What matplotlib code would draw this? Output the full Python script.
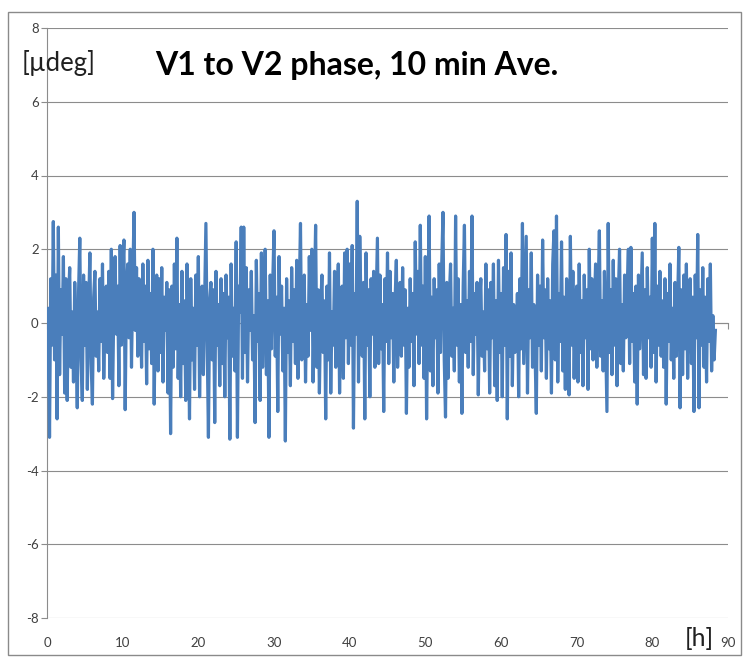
import numpy as np
import matplotlib
matplotlib.use("Agg")
import matplotlib.pyplot as plt
from matplotlib.patches import Rectangle

plt.rcParams['font.family'] = ['Lato', 'DejaVu Sans']
plt.rcParams['axes.unicode_minus'] = False

# 10 min averages, one row per hour (6 values per hour)
phase_rows = [
    [-1.5, 0.4, -3.1, 1.2, -0.6, 2.75],
    [-1.0, 1.3, -2.6, 2.6, -1.4, 0.9],
    [-0.3, 1.8, -1.9, 1.2, -2.1, 0.6],
    [1.5, -1.2, 0.3, -1.6, 1.1, -0.4],
    [-2.3, 0.8, 2.3, -1.0, -2.1, 1.3],
    [-0.6, 1.1, -1.8, 0.4, 1.9, -1.1],
    [-2.2, 0.7, 1.4, -0.9, 0.3, -1.3],
    [1.2, -0.5, 1.6, -1.5, 0.2, 1.0],
    [-0.8, 1.4, -1.5, 2.0, -2.05, 0.5],
    [1.8, -0.3, 1.0, -1.7, 2.1, -0.6],
    [1.3, 2.25, -2.35, 0.9, 1.6, -0.4],
    [2.0, -1.2, 1.1, 3.0, -0.2, 1.5],
    [-0.9, 1.2, 0.4, -1.2, 1.6, -0.5],
    [1.0, -1.65, 1.7, -0.7, 0.8, -1.1],
    [2.0, -2.2, 0.6, 1.3, -1.3, 1.2],
    [-0.8, 1.5, -1.6, 0.7, -0.2, 1.1],
    [-1.9, 0.9, -3.0, 1.0, -1.2, 1.6],
    [-0.7, 2.3, -1.5, 0.5, -2.0, 1.4],
    [-1.1, 0.6, -2.1, 1.6, -0.3, -2.6],
    [1.2, -1.0, 0.4, -1.8, 1.3, -0.6],
    [1.8, -2.0, 0.3, 1.0, -1.4, 0.7],
    [2.7, -0.5, -3.1, 0.6, 1.1, -1.0],
    [0.9, -2.7, 1.4, -0.6, 0.5, -1.7],
    [1.2, -1.1, 0.8, -2.0, 1.3, -0.4],
    [0.7, -3.15, 1.6, -0.9, 0.4, -1.3],
    [2.2, -3.1, 1.0, 0.3, 2.6, -1.5],
    [2.6, -0.8, 1.5, -1.6, 0.9, -0.2],
    [1.4, -1.0, 0.2, -2.7, 1.7, -0.5],
    [0.8, -2.1, 1.9, -1.2, 0.5, 2.0],
    [-1.4, 0.6, -3.1, 1.3, -0.7, 1.1],
    [2.5, -0.9, 0.7, -2.4, 1.8, -0.3],
    [1.0, -1.3, 0.4, -3.2, 1.2, -0.8],
    [0.6, -1.7, 1.5, -0.5, 0.9, -1.1],
    [1.7, -1.5, 0.8, 2.7, -1.0, 0.3],
    [1.3, -1.6, 0.5, -0.9, 1.8, -0.2],
    [2.0, -1.6, 0.7, 2.65, -1.2, 0.9],
    [-1.9, 0.4, 1.3, -0.8, 0.6, -2.6],
    [1.0, -1.0, 1.9, -1.9, 0.3, -0.6],
    [1.4, -1.2, 0.8, 1.6, -1.9, 0.5],
    [1.0, -1.5, 1.9, -0.4, 2.0, -1.1],
    [1.6, -0.6, 2.1, -2.85, 0.8, -0.3],
    [3.3, -1.6, 2.35, 0.4, -0.9, 1.1],
    [-2.6, 1.9, -0.6, 0.9, -2.0, 1.2],
    [-0.3, 1.4, -1.2, 0.6, 2.3, -1.1],
    [1.3, -0.7, 0.5, -2.4, 1.2, -0.5],
    [1.9, -1.1, 1.4, -0.4, 0.8, -1.6],
    [0.6, 1.7, -1.2, 0.3, 1.1, -0.9],
    [1.5, -0.6, 0.9, -2.45, 0.4, -1.2],
    [1.2, -0.5, 0.8, -1.7, 2.2, -0.3],
    [1.4, -1.1, 2.65, -0.6, 1.0, -1.5],
    [1.8, -2.6, 0.5, 2.9, -1.3, 0.7],
    [-1.7, 1.2, -0.4, 0.9, -1.9, 1.6],
    [-0.8, 1.6, 3.0, -1.0, -2.55, 1.1],
    [-1.5, 0.7, 1.6, -0.9, 0.4, -1.3],
    [2.9, -0.6, 1.2, -1.6, 0.5, -2.45],
    [1.0, 2.65, -0.8, 0.6, -1.2, 1.4],
    [-0.5, 2.9, -1.4, 0.8, -0.3, 1.1],
    [-1.95, 0.5, 1.2, -0.9, 0.3, -1.3],
    [1.6, -0.7, 0.9, -1.9, 1.1, -0.4],
    [1.6, -1.7, 0.6, -2.1, 1.7, -0.8],
    [0.8, -2.0, 1.5, -0.6, 2.4, -2.6],
    [1.4, -0.9, 1.9, -1.7, 0.5, -0.8],
    [-0.5, 0.8, -2.0, 1.2, -0.7, 2.7],
    [-1.1, 0.6, 2.35, -1.9, 0.9, -0.4],
    [1.9, -1.2, 0.5, -0.8, -2.45, 1.3],
    [-0.6, 1.0, -1.3, 2.25, -0.4, 0.9],
    [-1.5, 1.2, -0.7, 0.6, -1.9, 1.6],
    [2.5, -1.0, 2.9, -1.6, 0.8, -0.5],
    [2.2, -1.3, 0.7, -1.8, 1.2, -0.3],
    [-1.95, 2.35, -0.6, 1.4, -1.5, 0.5],
    [1.0, -1.6, 1.6, -0.8, 0.6, -1.7],
    [1.3, -0.4, 0.9, -1.8, 2.0, -0.7],
    [1.2, -1.0, 0.4, 1.6, -1.2, 0.8],
    [2.5, -0.9, 0.6, -1.3, 1.4, -0.5],
    [-2.4, 2.7, -0.8, 0.9, -1.4, 1.7],
    [-0.6, 1.2, -1.7, 0.7, 2.0, -1.1],
    [0.5, -1.3, 1.3, -0.4, 0.9, 2.0],
    [-1.1, 2.05, -0.5, 0.8, -1.6, 1.0],
    [-2.2, 1.3, -0.7, 0.6, 1.9, -1.4],
    [0.9, -1.5, 1.5, -0.4, 0.7, -1.2],
    [2.3, -0.8, 2.7, -1.6, 1.0, -0.6],
    [1.4, -0.9, 0.6, -1.2, 1.2, -2.2],
    [0.8, -0.5, 1.6, -1.0, 0.4, -1.5],
    [1.1, -0.9, 0.5, 2.05, -2.3, 0.9],
    [-1.4, 1.3, -0.7, 1.6, -1.5, 0.6],
    [1.2, -1.1, 0.7, -2.4, 1.3, -0.4],
    [2.4, -2.3, 0.9, -0.6, 1.5, -1.2],
    [0.7, -1.6, 1.2, -0.5, 1.6, -1.3],
    [0.2, -1.0, -0.2],
]
phase = np.concatenate([np.array(r) for r in phase_rows])
hours = np.arange(len(phase)) / 6.0

x_ticks = [0, 10, 20, 30, 40, 50, 60, 70, 80, 90]
y_ticks = [-8, -6, -4, -2, 0, 2, 4, 6, 8]

W, H = 744, 658
fig = plt.figure(figsize=(W / 100, H / 100), dpi=100)
ax = fig.add_axes([47 / W, 1 - 618 / H, 681 / W, 590 / H])

ax.plot(hours, phase, color='#4A7EBB', linewidth=2.3, zorder=3)

ax.set_xlim(0, 90)
ax.set_ylim(-8, 8)
ax.set_yticks(y_ticks)
ax.set_xticks(x_ticks)
ax.grid(axis='y', color='#8c8c8c', linewidth=0.8)
ax.set_axisbelow(True)

for s in ['top', 'right']:
    ax.spines[s].set_visible(False)
ax.spines['left'].set_color('#8c8c8c')
ax.spines['left'].set_linewidth(0.8)
ax.spines['bottom'].set_position(('data', 0))
ax.spines['bottom'].set_color('#8c8c8c')
ax.spines['bottom'].set_linewidth(0.8)
ax.tick_params(axis='y', length=4, color='#8c8c8c', pad=2, labelsize=9.5,
               labelcolor='#404040')
ax.tick_params(axis='x', length=4, color='#8c8c8c', labelbottom=False)

# x labels sit at the bottom of the plot (Excel "low" position)
sec = ax.secondary_xaxis('bottom')
sec.set_xticks(x_ticks)
sec.spines['bottom'].set_visible(False)
sec.tick_params(length=0, pad=14, labelsize=9.5, labelcolor='#404040')

fig.text(22 / W, 1 - 63 / H, '[\u00b5deg]', fontsize=18.5, va='center',
         ha='left', color='#202020')
fig.text(155 / W, 1 - 65 / H, 'V1 to V2 phase, 10 min Ave.', fontsize=23,
         fontweight='bold', va='center', ha='left', color='#000000')
fig.text(699 / W, 1 - 638 / H, '[h]', fontsize=18, va='center', ha='center',
         color='#202020')

fig.patches.append(Rectangle((8 / W, 3 / H), 733 / W, 643 / H,
                             transform=fig.transFigure, fill=False,
                             edgecolor='#8a8a8a', linewidth=1))

fig.savefig('out.png', dpi=100)
